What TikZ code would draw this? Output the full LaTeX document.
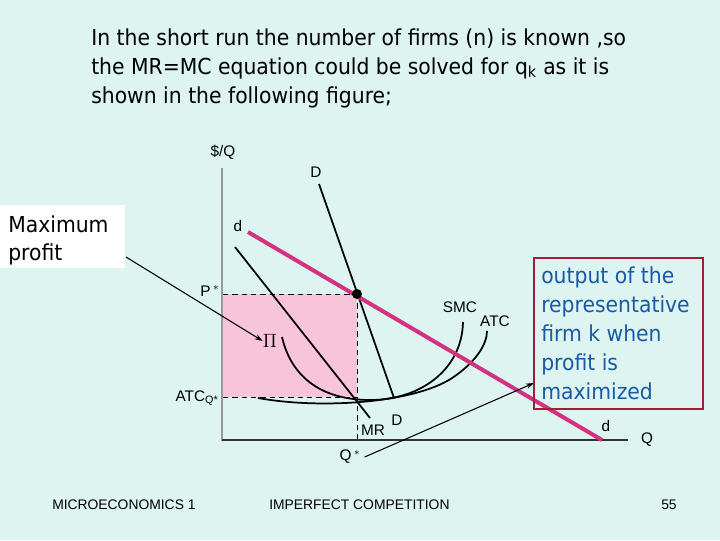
\documentclass[tikz,border=0pt]{standalone}
\usepackage{fontspec}
\setmainfont{DejaVu Sans}[FakeStretch=0.925]
\newfontfamily\arialf{Liberation Sans}
\usetikzlibrary{arrows.meta}
\definecolor{bgc}{RGB}{221,244,241}
\definecolor{pinkc}{RGB}{247,196,216}
\definecolor{magc}{RGB}{212,50,128}
\definecolor{boxc}{RGB}{160,30,60}
\definecolor{bluec}{RGB}{25,90,165}
\tikzset{
  title/.style={anchor=base west,inner sep=0,font=\fontsize{16.5}{18}\selectfont},
  lbl/.style={inner sep=0,font=\arialf\fontsize{11.5}{13}\selectfont},
  foot/.style={anchor=base west,inner sep=0,font=\arialf\fontsize{10.4}{12}\selectfont},
  curve/.style={line width=1.3pt,black},
  dashln/.style={dashed,dash pattern=on 4pt off 3pt,line width=0.7pt},
  arr/.style={-{Stealth[length=6pt,width=4pt]},line width=0.8pt}
}
\begin{document}
\begin{tikzpicture}[x=0.75pt,y=-0.75pt]
\fill[bgc] (0,0) rectangle (720,540);
\useasboundingbox (0,0) rectangle (720,540);
% title
\node[title] (t1) at (91,45) {In the short run the number of firms (n) is known ,so};
\node[title] (t2) at (91,74) {the MR=MC equation could be solved for q\textsubscript{k} as it is};
\node[title] (t3) at (91,103) {shown in the following figure;};
% profit rectangle
\fill[pinkc] (223,294) rectangle (357,397);
\draw[dashln] (223,294) -- (357,294);
\draw[dashln] (223,397) -- (357,397);
\draw[dashln] (357,294) -- (357,440);
% axes
\draw[line width=1.5pt,black!40] (222,168) -- (222,441);
\draw[line width=1.2pt,black!80] (222,440) -- (628,440);
% curves
\draw[curve] (282,337) .. controls (292,380) and (325,400) .. (370,400) .. controls (420,400) and (462,370) .. (463,322);
\draw[curve] (258,398) .. controls (325,410) and (420,402) .. (455,376) .. controls (475,362) and (487,345) .. (487,331);
\draw[curve] (319,184) -- (394,398);
\draw[curve] (235,247) -- (370,418);
\draw[line width=3pt,magc] (248,232) -- (602,440);
\fill (357,294) circle (5);
% labels
\node[lbl] (yl) at (223,152) {\$/Q};
\node[lbl] (xl) at (647,440) {Q};
\node[lbl] (D1) at (316,172) {D};
\node[lbl] (D2) at (397,420) {D};
\node[lbl] (d1) at (238,226) {d};
\node[lbl] (d2) at (606,426) {d};
\node[lbl] (ps) at (210,291) {P\,$^*$};
\node[lbl] (atcq) at (197,398) {ATC\textsubscript{Q*}};
\node[lbl] (smc) at (460,307) {SMC};
\node[lbl] (atc) at (495,321) {ATC};
\node[lbl] (mr) at (373,430) {MR};
\node[lbl] (qs) at (350,457) {Q\,$^*$};
\node[inner sep=0,font=\fontsize{13.5}{14}\selectfont] (pi) at (270,341) {$\Pi$};
% Maximum profit box
\fill[white] (0,205) rectangle (125,268);
\coordinate (mbox) at (126,257);
\node[title] (m1) at (8,232) {Maximum};
\node[title] (m2) at (8,260) {profit};
\draw[arr] (mbox) -- (pi.west);
% output box
\draw[boxc,line width=0.8pt] (534,258) rectangle (703,409);
\coordinate (obox) at (534,383);
\foreach \t/\yy [count=\i] in {output of the/283,representative/312,firm k when/341,profit is/370,maximized/399}
  \node[title,text=bluec] (o\i) at (541,\yy) {\t};
\draw[arr] (qs.east) ++(4,0) coordinate (qse) (qse) -- (obox);
% footer
\node[foot] (f1) at (52,509) {MICROECONOMICS 1};
\node[foot] (f2) at (269,509) {IMPERFECT COMPETITION};
\node[foot] (f3) at (661,509) {55};
\end{tikzpicture}
\end{document}
